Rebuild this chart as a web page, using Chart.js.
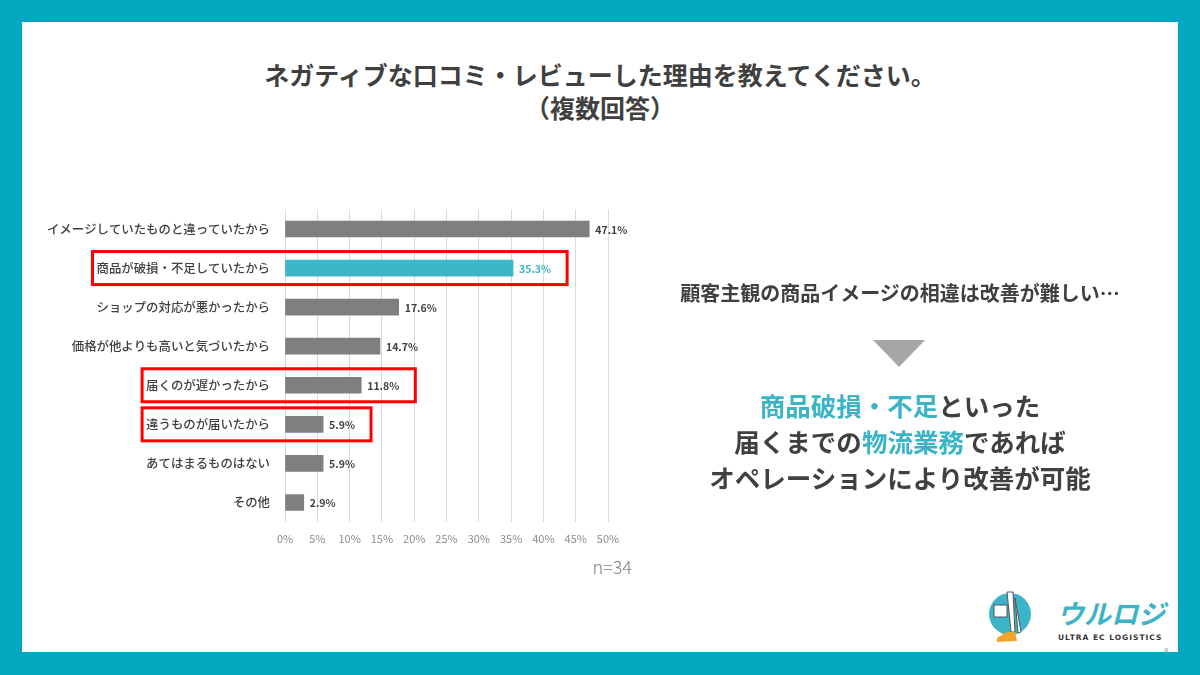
<!DOCTYPE html>
<html lang="ja">
<head>
<meta charset="utf-8">
<script src="https://cdn.jsdelivr.net/npm/chart.js@4.4.1/dist/chart.umd.min.js"></script>
<style>
  body { margin: 0; width: 1200px; height: 675px; background: #03a7bf; overflow: hidden; position: relative;
         font-family: "Noto Sans CJK JP", "Noto Sans", sans-serif; color: #404040; }
  .panel { position: absolute; left: 22px; top: 22px; width: 1156px; height: 630px; background: #fff; }
  .title { position: absolute; left: 0; top: 58px; width: 1200px; text-align: center; font-size: 25px;
           font-weight: bold; line-height: 33px; }
  .chart-box { position: absolute; left: 0; top: 195px; width: 650px; height: 360px; }
  .n { position: absolute; left: 550px; top: 553px; width: 82px; text-align: right; font-size: 18px; color: #7f7f7f; font-weight: 300; }
  .note { position: absolute; left: 640px; width: 520px; text-align: center; font-weight: bold; }
  .note.small { top: 280px; font-size: 20px; line-height: 26px; }
  .note.big { top: 387px; font-size: 25.5px; line-height: 36px; }
  .teal { color: #3cb4c8; }
  .arrow { position: absolute; left: 873px; top: 340px; width: 0; height: 0;
           border-left: 26px solid transparent; border-right: 26px solid transparent; border-top: 27px solid #a6a6a6; }
  .logo { position: absolute; left: 985px; top: 588px; }
  .page { position: absolute; left: 1164px; top: 645px; font-size: 8px; color: #999; }
</style>
</head>
<body>
<div class="panel"></div>
<div class="title">ネガティブな口コミ・レビューした理由を教えてください。<br>（複数回答）</div>
<div class="chart-box"><canvas id="reasonChart" width="650" height="360"></canvas></div>
<div class="n">n=34</div>
<div class="note small">顧客主観の商品イメージの相違は改善が難しい…</div>
<div class="arrow"></div>
<div class="note big"><span class="teal">商品破損・不足</span>といった<br>届くまでの<span class="teal">物流業務</span>であれば<br>オペレーションにより改善が可能</div>
<svg class="logo" width="185" height="62" viewBox="0 0 185 62">
  <circle cx="25" cy="26" r="21" fill="#3cb4c8"/>
  <rect x="9" y="17" width="13" height="12" fill="#fff" stroke="#555" stroke-width="1"/>
  <path d="M22 4 L28 4 L30 44 L26 44 Z M30 10 L36 44 L33 45 Z" fill="#fff" stroke="#555" stroke-width="1"/>
  <path d="M12 50 L22 44 L30 44 L32 53 L12 54 Z" fill="#f2a629"/>
  <text x="72" y="36" font-size="27" font-weight="bold" font-style="italic" fill="#3cb4c8"
        font-family="Noto Sans CJK JP">ウルロジ</text>
  <text x="73" y="52" font-size="7.5" font-weight="bold" fill="#333" letter-spacing="1"
        font-family="DejaVu Sans">ULTRA EC LOGISTICS</text>
</svg>
<div class="page">8</div>

<script>
const categories = [
  "イメージしていたものと違っていたから",
  "商品が破損・不足していたから",
  "ショップの対応が悪かったから",
  "価格が他よりも高いと気づいたから",
  "届くのが遅かったから",
  "違うものが届いたから",
  "あてはまるものはない",
  "その他"
];
const values = [47.1, 35.3, 17.6, 14.7, 11.8, 5.9, 5.9, 2.9];
const accentIndex = 1;          // teal bar
const boxedIndexes = [1, 4, 5]; // red frames
const grayColor = "#7f7f7f";
const accentColor = "#3cb6c9";
const labelFont = '500 12.4px "Noto Sans CJK JP"';
const valueFont = 'bold 10.5px "Noto Sans CJK JP"';

// value labels to the right of each bar
const barLabels = {
  id: "barLabels",
  afterDatasetsDraw(chart) {
    const ctx = chart.ctx;
    const meta = chart.getDatasetMeta(0);
    ctx.save();
    ctx.font = valueFont;
    ctx.textBaseline = "middle";
    meta.data.forEach((bar, i) => {
      ctx.fillStyle = i === accentIndex ? accentColor : "#404040";
      ctx.fillText(values[i].toFixed(1) + "%", bar.x + 6, bar.y + 1);
    });
    ctx.restore();
  }
};

// red frames around selected rows
const redFrames = {
  id: "redFrames",
  afterDraw(chart) {
    const ctx = chart.ctx;
    const meta = chart.getDatasetMeta(0);
    const area = chart.chartArea;
    ctx.save();
    ctx.strokeStyle = "#ff0000";
    ctx.lineWidth = 3;
    boxedIndexes.forEach(i => {
      const bar = meta.data[i];
      ctx.font = labelFont;
      const labelW = ctx.measureText(categories[i]).width;
      ctx.font = valueFont;
      const valueW = ctx.measureText(values[i].toFixed(1) + "%").width;
      const left = area.left - 7 - labelW - 12;
      const right = bar.x + 6 + valueW + 16;
      ctx.strokeRect(left, bar.y - 16.5, right - left, 33);
    });
    ctx.restore();
  }
};

new Chart(document.getElementById("reasonChart"), {
  type: "bar",
  data: {
    labels: categories,
    datasets: [{
      data: values,
      backgroundColor: values.map((v, i) => i === accentIndex ? accentColor : grayColor),
      barThickness: 16
    }]
  },
  options: {
    indexAxis: "y",
    responsive: false,
    animation: false,
    devicePixelRatio: 1,
    layout: { padding: { top: 10, right: 42, left: 0, bottom: 0 } },
    scales: {
      x: {
        min: 0,
        max: 50,
        ticks: {
          stepSize: 5,
          callback: v => v + "%",
          color: "#8c8c8c",
          font: { size: 11, family: "Noto Sans CJK JP" },
          padding: 10,
          maxRotation: 0
        },
        grid: { color: "#d9d9d9", drawTicks: false },
        border: { display: false },
        afterFit: s => { s.height = 33; }
      },
      y: {
        ticks: {
          color: "#404040",
          font: { size: 12.4, weight: "500", family: "Noto Sans CJK JP" },
          padding: 7
        },
        grid: { display: false },
        border: { display: false },
        afterFit: s => { s.width = 285; }
      }
    },
    plugins: {
      legend: { display: false },
      tooltip: { enabled: false }
    }
  },
  plugins: [barLabels, redFrames]
});
</script>
</body>
</html>
